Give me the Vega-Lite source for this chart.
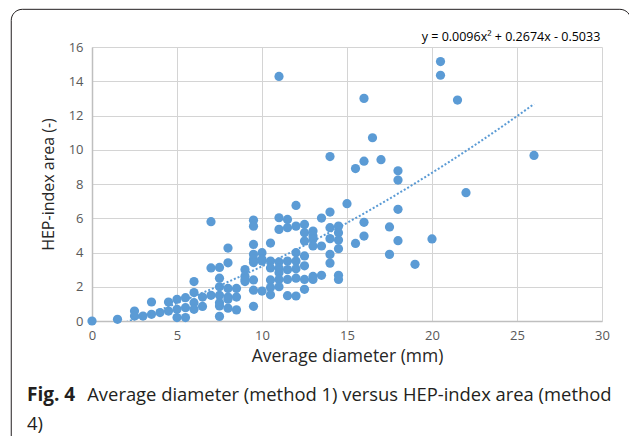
{
  "$schema": "https://vega.github.io/schema/vega-lite/v6.json",
  "autosize": "none",
  "width": 510,
  "height": 274,
  "padding": {"left": 92, "top": 47, "right": 27, "bottom": 115},
  "background": "white",
  "config": {
    "view": {"stroke": null},
    "font": "Open Sans",
    "axis": {
      "grid": true,
      "gridColor": "#d4d4d4",
      "gridWidth": 1,
      "gridOpacity": 1,
      "domainColor": "#bfbfbf",
      "domainWidth": 1.5,
      "ticks": false,
      "labelFlush": false,
      "labelOverlap": false,
      "labelFont": "Open Sans",
      "labelFontSize": 13,
      "labelColor": "#595959",
      "titleFont": "Open Sans",
      "titleFontWeight": "normal",
      "titleColor": "#262626",
      "titleFontSize": 17.5
    },
    "axisX": {"labelPadding": 8, "titlePadding": 5},
    "axisY": {"labelPadding": 9, "titlePadding": 12, "titleFontSize": 16}
  },
  "datasets": {
    "pts": [
      {"d": 0, "h": 0}, {"d": 1.5, "h": 0.1}, {"d": 2.5, "h": 0.58}, {"d": 2.5, "h": 0.29}, {"d": 3, "h": 0.29},
      {"d": 3.5, "h": 1.11}, {"d": 3.5, "h": 0.39}, {"d": 4, "h": 0.49}, {"d": 4.5, "h": 1.11}, {"d": 4.5, "h": 0.58},
      {"d": 5, "h": 1.27}, {"d": 5, "h": 0.68}, {"d": 5, "h": 0.2}, {"d": 5.5, "h": 1.36}, {"d": 5.5, "h": 0.78},
      {"d": 5.5, "h": 0.2}, {"d": 6, "h": 2.3}, {"d": 6, "h": 1.66}, {"d": 6, "h": 1.07}, {"d": 6, "h": 0.68},
      {"d": 6.5, "h": 1.4}, {"d": 6.5, "h": 0.85}, {"d": 7, "h": 5.8}, {"d": 7, "h": 3.1}, {"d": 7, "h": 1.5},
      {"d": 7.5, "h": 3.13}, {"d": 7.5, "h": 2.5}, {"d": 7.5, "h": 2.0}, {"d": 7.5, "h": 1.5}, {"d": 7.5, "h": 1.07},
      {"d": 7.5, "h": 0.88}, {"d": 7.5, "h": 0.27}, {"d": 8, "h": 4.26}, {"d": 8, "h": 3.4}, {"d": 8, "h": 1.9},
      {"d": 8, "h": 1.4}, {"d": 8, "h": 1.27}, {"d": 8, "h": 0.75}, {"d": 8.5, "h": 1.9}, {"d": 8.5, "h": 1.4},
      {"d": 8.5, "h": 0.65}, {"d": 9, "h": 3.0}, {"d": 9, "h": 2.62}, {"d": 9, "h": 2.3}, {"d": 9, "h": 2.43},
      {"d": 9.5, "h": 5.89}, {"d": 9.5, "h": 5.54}, {"d": 9.5, "h": 4.47}, {"d": 9.5, "h": 3.89}, {"d": 9.5, "h": 3.6},
      {"d": 9.5, "h": 3.41}, {"d": 9.5, "h": 2.4}, {"d": 9.5, "h": 1.8}, {"d": 9.5, "h": 0.86}, {"d": 10, "h": 3.99},
      {"d": 10, "h": 3.6}, {"d": 10, "h": 3.5}, {"d": 10, "h": 1.75}, {"d": 10.5, "h": 4.55}, {"d": 10.5, "h": 3.5},
      {"d": 10.5, "h": 3.1}, {"d": 10.5, "h": 2.4}, {"d": 10.5, "h": 1.95}, {"d": 10.5, "h": 1.53}, {"d": 11, "h": 14.28},
      {"d": 11, "h": 6.03}, {"d": 11, "h": 5.35}, {"d": 11, "h": 3.45}, {"d": 11, "h": 3.1}, {"d": 11, "h": 2.82},
      {"d": 11, "h": 2.43}, {"d": 11, "h": 2.0}, {"d": 11.5, "h": 5.93}, {"d": 11.5, "h": 5.45}, {"d": 11.5, "h": 3.5},
      {"d": 11.5, "h": 3.0}, {"d": 11.5, "h": 2.43}, {"d": 11.5, "h": 1.48}, {"d": 12, "h": 6.75}, {"d": 12, "h": 5.54},
      {"d": 12, "h": 3.99}, {"d": 12, "h": 3.5}, {"d": 12, "h": 3.05}, {"d": 12, "h": 2.5}, {"d": 12, "h": 1.46},
      {"d": 12.5, "h": 5.64}, {"d": 12.5, "h": 5.16}, {"d": 12.5, "h": 4.67}, {"d": 12.5, "h": 3.8}, {"d": 12.5, "h": 3.22},
      {"d": 12.5, "h": 2.43}, {"d": 12.5, "h": 1.85}, {"d": 13, "h": 5.25}, {"d": 13, "h": 4.96}, {"d": 13, "h": 4.77},
      {"d": 13, "h": 4.38}, {"d": 13, "h": 2.6}, {"d": 13, "h": 2.43}, {"d": 13.5, "h": 6.01}, {"d": 13.5, "h": 4.38},
      {"d": 13.5, "h": 2.67}, {"d": 14, "h": 9.6}, {"d": 14, "h": 6.36}, {"d": 14, "h": 5.45}, {"d": 14, "h": 4.81},
      {"d": 14, "h": 3.89}, {"d": 14, "h": 3.38}, {"d": 14.5, "h": 5.54}, {"d": 14.5, "h": 5.16}, {"d": 14.5, "h": 4.73},
      {"d": 14.5, "h": 4.22}, {"d": 14.5, "h": 2.67}, {"d": 14.5, "h": 2.43}, {"d": 15, "h": 6.85}, {"d": 15.5, "h": 8.9},
      {"d": 15.5, "h": 4.53}, {"d": 16, "h": 13.0}, {"d": 16, "h": 9.33}, {"d": 16, "h": 5.76}, {"d": 16, "h": 4.96},
      {"d": 16.5, "h": 10.7}, {"d": 17, "h": 9.42}, {"d": 17.5, "h": 5.49}, {"d": 17.5, "h": 3.89}, {"d": 18, "h": 8.77},
      {"d": 18, "h": 8.23}, {"d": 18, "h": 6.52}, {"d": 18, "h": 4.69}, {"d": 19, "h": 3.31}, {"d": 20, "h": 4.79},
      {"d": 20.5, "h": 15.15}, {"d": 20.5, "h": 14.35}, {"d": 21.5, "h": 12.9}, {"d": 22, "h": 7.49}, {"d": 26, "h": 9.67}
    ],
    "one": [{"k": 1}]
  },
  "layer": [
    {
      "data": {"name": "pts"},
      "mark": {"type": "point", "filled": true, "size": 85, "fill": "#5b9bd5", "stroke": null, "opacity": 1},
      "encoding": {
        "x": {
          "field": "d", "type": "quantitative",
          "scale": {"domain": [0, 30], "nice": false, "zero": false},
          "axis": {"values": [0, 5, 10, 15, 20, 25, 30], "grid": true, "title": "Average diameter (mm)"}
        },
        "y": {
          "field": "h", "type": "quantitative",
          "scale": {"domain": [0, 16], "nice": false, "zero": false},
          "axis": {"values": [0, 2, 4, 6, 8, 10, 12, 14, 16], "grid": true, "title": "HEP-index area (-)"}
        }
      }
    },
    {
      "data": {"name": "pts"},
      "transform": [{"regression": "h", "on": "d", "method": "poly", "order": 2, "extent": [0, 26]}],
      "mark": {"type": "line", "stroke": "#5b9bd5", "strokeWidth": 2, "strokeDash": [2, 2], "clip": true},
      "encoding": {
        "x": {"field": "d", "type": "quantitative", "axis": {"values": [0, 5, 10, 15, 20, 25, 30], "grid": true, "title": "Average diameter (mm)"}},
        "y": {"field": "h", "type": "quantitative", "axis": {"values": [0, 2, 4, 6, 8, 10, 12, 14, 16], "grid": true, "title": "HEP-index area (-)"}}
      }
    },
    {
      "data": {"name": "one"},
      "mark": {"type": "rect", "filled": false, "fill": "transparent", "fillOpacity": 0, "stroke": "#231f20", "strokeWidth": 1, "cornerRadius": 11, "clip": false},
      "encoding": {
        "x": {"datum": -4.75, "type": "quantitative", "axis": {"values": [0, 5, 10, 15, 20, 25, 30], "grid": true, "title": "Average diameter (mm)"}},
        "x2": {"datum": 31.7},
        "y": {"datum": 18.2, "type": "quantitative", "axis": {"values": [0, 2, 4, 6, 8, 10, 12, 14, 16], "grid": true, "title": "HEP-index area (-)"}},
        "y2": {"datum": -9}
      }
    },
    {
      "data": {"name": "one"},
      "mark": {"type": "text", "text": "y = 0.0096x² + 0.2674x - 0.5033", "font": "Open Sans", "fontSize": 12.5, "fontWeight": "normal", "align": "right", "baseline": "alphabetic", "fill": "#000000", "clip": false},
      "encoding": {
        "x": {"datum": 29.9, "type": "quantitative", "axis": {"values": [0, 5, 10, 15, 20, 25, 30], "grid": true, "title": "Average diameter (mm)"}},
        "y": {"datum": 16.35, "type": "quantitative", "axis": {"values": [0, 2, 4, 6, 8, 10, 12, 14, 16], "grid": true, "title": "HEP-index area (-)"}}
      }
    },
    {
      "data": {"name": "one"},
      "mark": {"type": "text", "text": "Fig. 4", "font": "Open Sans", "fontSize": 19, "fontWeight": "bold", "align": "left", "baseline": "alphabetic", "fill": "#231f20", "clip": false},
      "encoding": {
        "x": {"datum": -3.82, "type": "quantitative", "axis": {"values": [0, 5, 10, 15, 20, 25, 30], "grid": true, "title": "Average diameter (mm)"}},
        "y": {"datum": -4.67, "type": "quantitative", "axis": {"values": [0, 2, 4, 6, 8, 10, 12, 14, 16], "grid": true, "title": "HEP-index area (-)"}}
      }
    },
    {
      "data": {"name": "one"},
      "mark": {"type": "text", "text": "Average diameter (method 1) versus HEP-index area (method", "font": "Open Sans", "fontSize": 18.4, "fontWeight": "normal", "align": "left", "baseline": "alphabetic", "fill": "#231f20", "clip": false},
      "encoding": {
        "x": {"datum": -0.28, "type": "quantitative", "axis": {"values": [0, 5, 10, 15, 20, 25, 30], "grid": true, "title": "Average diameter (mm)"}},
        "y": {"datum": -4.67, "type": "quantitative", "axis": {"values": [0, 2, 4, 6, 8, 10, 12, 14, 16], "grid": true, "title": "HEP-index area (-)"}}
      }
    },
    {
      "data": {"name": "one"},
      "mark": {"type": "text", "text": "4)", "font": "Open Sans", "fontSize": 18.4, "fontWeight": "normal", "align": "left", "baseline": "alphabetic", "fill": "#231f20", "clip": false},
      "encoding": {
        "x": {"datum": -3.82, "type": "quantitative", "axis": {"values": [0, 5, 10, 15, 20, 25, 30], "grid": true, "title": "Average diameter (mm)"}},
        "y": {"datum": -6.35, "type": "quantitative", "axis": {"values": [0, 2, 4, 6, 8, 10, 12, 14, 16], "grid": true, "title": "HEP-index area (-)"}}
      }
    }
  ]
}
